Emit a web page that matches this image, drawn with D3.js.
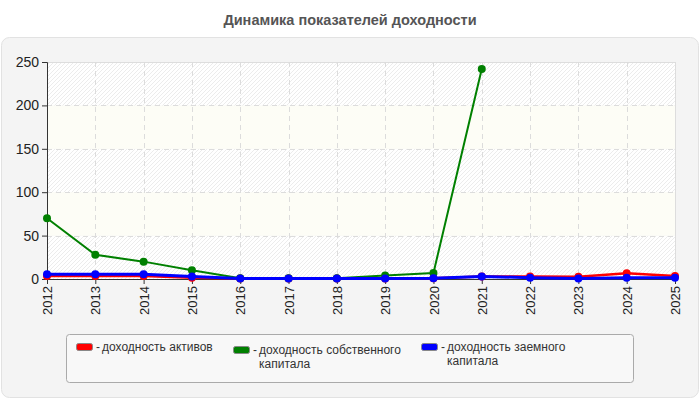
<!DOCTYPE html>
<html lang="ru">
<head>
<meta charset="UTF-8">
<title>Динамика показателей доходности</title>
<script src="https://d3js.org/d3.v7.min.js"></script>
<style>
  body { margin: 0; background: #fff; font-family: "Liberation Sans", Arial, sans-serif; }
</style>
</head>
<body>
<div id="chart"></div>
<script>
// data
const years = [2012, 2013, 2014, 2015, 2016, 2017, 2018, 2019, 2020, 2021, 2022, 2023, 2024, 2025];
const roa = [3.5, 3.5, 3.5, 1.5, 0.5, 0.5, 0.5, 0.5, 1, 3, 3, 2.5, 6.5, 3.5];
const roe = [70, 28, 20, 10, 1, 1, 1, 4, 7, 242, null, null, null, null];
const rod = [5.5, 5.5, 5.5, 3, 0.5, 0.5, 0.5, 0.5, 1, 3, 1.5, 0.5, 1.5, 1.5];
const yTicks = [0, 50, 100, 150, 200, 250];

const series = [
  { lines: ["доходность активов"], color: "#ff0000", values: roa, width: 2.5 },
  { lines: ["доходность собственного", "капитала"], color: "#008000", values: roe, width: 2 },
  { lines: ["доходность заемного", "капитала"], color: "#0000ff", values: rod, width: 3 }
];

const width = 700, height = 400;
const plot = { left: 47, right: 675, top: 62, bottom: 279 };

const svg = d3.select("#chart").append("svg")
  .attr("width", width)
  .attr("height", height);

// hatch pattern
const defs = svg.append("defs");
const pat = defs.append("pattern")
  .attr("id", "hatch")
  .attr("patternUnits", "userSpaceOnUse")
  .attr("width", 4).attr("height", 4);
pat.append("rect").attr("width", 4).attr("height", 4).attr("fill", "#ffffff");
pat.append("path").attr("d", "M-1,1 l2,-2 M0,4 l4,-4 M3,5 l2,-2")
  .attr("stroke", "#ececec").attr("stroke-width", 1);

// title
svg.append("text")
  .attr("x", width / 2).attr("y", 25)
  .attr("text-anchor", "middle")
  .attr("font-size", 14.5).attr("font-weight", "bold")
  .attr("fill", "#555")
  .text("Динамика показателей доходности");

// panel
svg.append("rect")
  .attr("x", 1.5).attr("y", 37.5)
  .attr("width", 697).attr("height", 360)
  .attr("rx", 8)
  .attr("fill", "#f4f4f4").attr("stroke", "#e2e2e2");

const x = d3.scalePoint().domain(years).range([plot.left, plot.right]);
const y = d3.scaleLinear().domain([0, 250]).range([plot.bottom, plot.top]);

// bands
const bands = d3.pairs(yTicks);
svg.append("g").selectAll("rect")
  .data(bands)
  .enter().append("rect")
  .attr("x", plot.left)
  .attr("y", d => y(d[1]))
  .attr("width", plot.right - plot.left)
  .attr("height", d => y(d[0]) - y(d[1]))
  .attr("fill", (d, i) => i % 2 === 0 ? "url(#hatch)" : "#fdfdf6");

// plot border
svg.append("rect")
  .attr("x", plot.left + 0.5).attr("y", plot.top + 0.5)
  .attr("width", plot.right - plot.left).attr("height", plot.bottom - plot.top)
  .attr("fill", "none").attr("stroke", "#dddddd");

// grid
const grid = svg.append("g")
  .attr("stroke", "#dcdcdc")
  .attr("stroke-dasharray", "5,4");
grid.selectAll("line.h")
  .data(yTicks.slice(1, -1))
  .enter().append("line")
  .attr("x1", plot.left).attr("x2", plot.right)
  .attr("y1", d => Math.round(y(d)) + 0.5).attr("y2", d => Math.round(y(d)) + 0.5);
grid.selectAll("line.v")
  .data(years.slice(1, -1))
  .enter().append("line")
  .attr("y1", plot.top).attr("y2", plot.bottom)
  .attr("x1", d => Math.round(x(d)) + 0.5).attr("x2", d => Math.round(x(d)) + 0.5);

// axes
const yAxis = svg.append("g")
  .attr("transform", `translate(${plot.left},0)`)
  .call(d3.axisLeft(y).tickValues(yTicks).tickSize(5).tickPadding(3));
yAxis.select(".domain").attr("stroke", "#333");
yAxis.selectAll(".tick line").attr("stroke", "#333");
yAxis.selectAll("text")
  .attr("font-family", "Liberation Sans, Arial, sans-serif")
  .attr("font-size", 14).attr("fill", "#222");

const xAxis = svg.append("g")
  .attr("transform", `translate(0,${plot.bottom})`)
  .call(d3.axisBottom(x).tickSize(5).tickSizeOuter(0).tickFormat(d3.format("d")));
xAxis.select(".domain").attr("stroke", "#333");
xAxis.selectAll(".tick line").attr("stroke", "#333");
xAxis.selectAll("text")
  .attr("font-family", "Liberation Sans, Arial, sans-serif")
  .attr("font-size", 13).attr("fill", "#222")
  .attr("transform", "rotate(-90)")
  .attr("text-anchor", "end")
  .attr("dx", "-7")
  .attr("dy", "0.35em")
  .attr("y", 0);

// lines
const line = d3.line()
  .defined(d => d.v !== null)
  .x(d => x(d.year))
  .y(d => y(d.v));

series.forEach(s => {
  const pts = years.map((yr, i) => ({ year: yr, v: s.values[i] }));
  svg.append("path")
    .datum(pts)
    .attr("fill", "none")
    .attr("stroke", s.color)
    .attr("stroke-width", s.width)
    .attr("d", line);
  svg.append("g").selectAll("circle")
    .data(pts.filter(d => d.v !== null))
    .enter().append("circle")
    .attr("cx", d => x(d.year))
    .attr("cy", d => y(d.v))
    .attr("r", 4)
    .attr("fill", s.color);
});

// legend
svg.append("rect")
  .attr("x", 66.5).attr("y", 334.5)
  .attr("width", 567).attr("height", 48)
  .attr("rx", 3)
  .attr("fill", "#f8f8f8").attr("stroke", "#aaaaaa");

const legendPos = [[76, 343], [233, 346], [421, 343]];
series.forEach((s, i) => {
  const g = svg.append("g").attr("transform", `translate(${legendPos[i][0]},${legendPos[i][1]})`);
  g.append("rect")
    .attr("x", 0.5).attr("y", 0.5)
    .attr("width", 16).attr("height", 7)
    .attr("rx", 2)
    .attr("fill", s.color).attr("stroke", "#888");
  g.append("text")
    .attr("x", 20).attr("y", 8)
    .attr("font-size", 12).attr("fill", "#333")
    .text("-");
  s.lines.forEach((ln, j) => {
    g.append("text")
      .attr("x", 26).attr("y", 8 + j * 14)
      .attr("font-size", 12).attr("fill", "#333")
      .text(ln);
  });
});
</script>
</body>
</html>
